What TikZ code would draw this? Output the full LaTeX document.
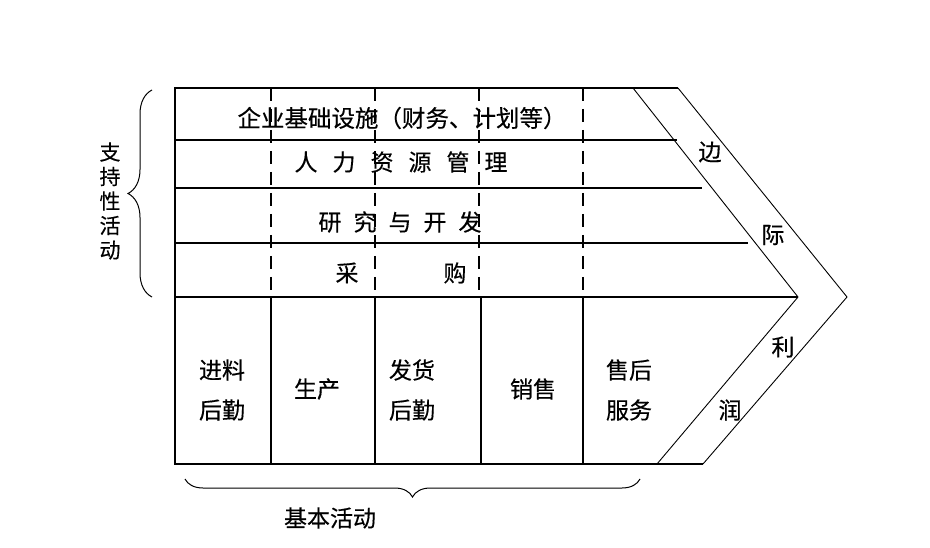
\documentclass[tikz,border=0pt]{standalone}
\usepackage{fontspec}
\newfontfamily\cjk[FakeBold=0.35]{Noto Sans CJK SC}
\usetikzlibrary{decorations.pathreplacing}
\begin{document}
\begin{tikzpicture}[x=1pt,y=-1pt,
  frame/.style={line width=1.6pt},
  slant/.style={line width=0.9pt},
  dashline/.style={line width=1.4pt, dash pattern=on 13pt off 8pt},
  bracestyle/.style={line width=1pt, decorate, decoration={brace, amplitude=#1}},
  lbl/.style={font=\cjk\fontsize{23}{40}\selectfont, inner sep=0pt, align=center},
  sidelbl/.style={font=\cjk\fontsize{21}{24.5}\selectfont, inner sep=0pt, align=center},
]
\useasboundingbox (0,0) rectangle (930,548);
% corners and key points
\coordinate (tl) at (175,88);
\coordinate (bl) at (175,464);
\coordinate (ti) at (633,88);
\coordinate (to) at (678,88);
\coordinate (ai) at (798,297);
\coordinate (ao) at (847,297);
\coordinate (bi) at (657,464);
\coordinate (bo) at (703,464);
\coordinate (ml) at (175,297);
% row lines
\coordinate (r1l) at (175,140); \coordinate (r1r) at (677,140);
\coordinate (r2l) at (175,188); \coordinate (r2r) at (702,188);
\coordinate (r3l) at (175,243); \coordinate (r3r) at (748,243);
% frame
\draw[frame] (to) -- (tl) -- (bl) -- (bo);
\draw[frame] (r1l) -- (r1r);
\draw[frame] (r2l) -- (r2r);
\draw[frame] (r3l) -- (r3r);
\draw[frame] (ml) -- (ai);
% chevron
\draw[slant] (ti) -- (ai) -- (bi);
\draw[slant] (to) -- (ao) -- (bo);
% vertical separators
\foreach \n/\xs/\xd in {1/271/271, 2/375/375, 3/481/479, 4/583/583}{
  \coordinate (vt\n) at (\xs,297);
  \coordinate (vb\n) at (\xs,464);
  \coordinate (dt\n) at (\xd,88);
  \coordinate (db\n) at (\xd,297);
  \draw[frame] (vt\n) -- (vb\n);
  \draw[dashline] (dt\n) -- (db\n);
}
% support activities
\node[lbl, font=\cjk\fontsize{23.5}{30}\selectfont] (infra) at (402,118) {企业基础设施（财务、计划等）};
\node[lbl] (hr) at (401,162) {人\hspace{15pt}力\hspace{15pt}资\hspace{15pt}源\hspace{15pt}管\hspace{15pt}理};
\node[lbl] (rd) at (400,222) {研\hspace{12pt}究\hspace{12pt}与\hspace{12pt}开\hspace{12pt}发};
\node[lbl] (buy1) at (347,273) {采};
\node[lbl] (buy2) at (455,273) {购};
% primary activities
\node[lbl] (p1) at (222,390) {进料\\后勤};
\node[lbl] (p2) at (317,389) {生产};
\node[lbl] (p3) at (412,390) {发货\\后勤};
\node[lbl] (p4) at (533,389) {销售};
\node[lbl] (p5) at (629,390) {售后\\服务};
% margin
\node[lbl] (m1) at (710,152) {边};
\node[lbl] (m2) at (773,235) {际};
\node[lbl] (m3) at (783,347) {利};
\node[lbl] (m4) at (730,410) {润};
% braces
\coordinate (lb1) at (152,297);
\coordinate (lb2) at (152,90);
\draw[bracestyle=24pt] (lb1) -- (lb2);
\node[sidelbl] (sup) at (110,201) {支\\持\\性\\活\\动};
\coordinate (bb1) at (640,479);
\coordinate (bb2) at (185,479);
\draw[bracestyle=18pt] (bb1) -- (bb2);
\node[lbl] (base) at (330,518) {基本活动};
\end{tikzpicture}
\end{document}
